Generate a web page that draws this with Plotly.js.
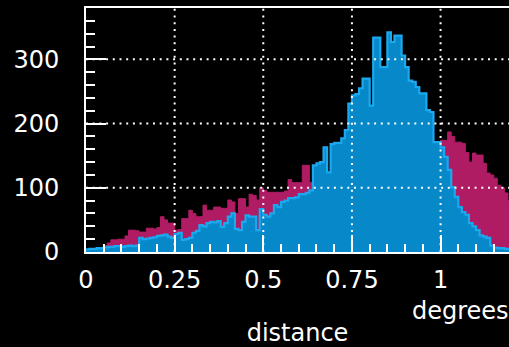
<!DOCTYPE html>
<html>
<head>
<meta charset="utf-8">
<script src="https://cdn.plot.ly/plotly-3.0.1.min.js"></script>
<style>html,body{margin:0;padding:0;background:#000;}#chart{width:509px;height:347px;}</style>
</head>
<body>
<div id="chart"></div>
<script>
// Histogram bins: start 0, width 0.01 (120 bins)
var binStart = 0;
var binWidth = 0.01;

// Magenta series counts per bin
var magentaCounts = [
  3,4,5,5,6, 10,14,19,19,20,
  20,25,34,34,33, 31,31,37,37,36,
  38,55,50,45,45, 34,35,52,52,65,
  60,55,55,73,65, 65,70,70,68,68,
  81,78,60,83,83, 70,90,88,81,100,
  96,93,93,93,93, 93,95,113,108,108,
  108,135,135,108,110, 115,118,120,122,125,
  128,130,133,135,138, 140,142,145,147,150,
  152,155,157,158,160, 160,162,163,163,165,
  165,166,167,168,168, 169,170,170,171,172,
  174,174,187,180,171, 171,169,155,140,154,
  151,151,138,123,120, 115,104,100,92,80
];

// Blue series counts per bin
var blueCounts = [
  4,5,5,6,6, 7,8,8,9,9,
  8,9,10,9,10, 22,20,21,22,23,
  25,26,27,24,22, 28,30,19,20,22,
  30,33,42,40,45, 47,46,48,39,45,
  55,60,36,34,47, 57,55,55,34,67,
  58,55,60,73,70, 78,80,84,84,85,
  90,90,92,96,135, 138,140,163,124,168,
  170,170,177,190,231, 244,246,255,270,270,
  228,334,334,288,288, 342,327,337,337,306,
  288,267,265,257,247, 247,221,218,171,171,
  163,148,128,101,86, 70,62,58,45,40,
  34,26,24,22,10, 7,6,6,5,5
];

var xTickVals = [0, 0.25, 0.5, 0.75, 1];
var xTickText = ['0', '0.25', '0.5', '0.75', '1'];
var yTickVals = [0, 100, 200, 300];
var yTickText = ['0', '100', '200', '300'];

function stepArrays(counts) {
  var xs = [], ys = [];
  for (var i = 0; i <= counts.length; i++) {
    xs.push(+(binStart + i * binWidth).toFixed(6));
    ys.push(i < counts.length ? counts[i] : counts[counts.length - 1]);
  }
  return {x: xs, y: ys};
}

var m = stepArrays(magentaCounts);
var b = stepArrays(blueCounts);

var traces = [
  {type: 'scatter', mode: 'lines', x: m.x, y: m.y, line: {shape: 'hv', color: '#b01c64', width: 1},
   fill: 'tozeroy', fillcolor: '#b01c64', hoverinfo: 'skip', showlegend: false},
  {type: 'scatter', mode: 'lines', x: b.x, y: b.y, line: {shape: 'hv', color: '#1aa9ef', width: 2.2},
   fill: 'tozeroy', fillcolor: '#0788c9', hoverinfo: 'skip', showlegend: false}
];

var xRange = [0, 1.193];
var yRange = [0, 380];

var shapes = [];
xTickVals.forEach(function (v) {
  if (v > xRange[0]) shapes.push({type: 'line', layer: 'above', xref: 'x', yref: 'paper', x0: v, x1: v, y0: 0, y1: 1,
    line: {color: 'white', width: 2, dash: '2px,4.7px'}});
});
yTickVals.forEach(function (v) {
  if (v > yRange[0]) shapes.push({type: 'line', layer: 'above', xref: 'paper', yref: 'y', x0: 0, x1: 1, y0: v, y1: v,
    line: {color: 'white', width: 2, dash: '2px,4.7px'}});
});

var font = {family: 'DejaVu Sans, sans-serif', color: 'white', size: 24};

var layout = {
  width: 509, height: 347,
  paper_bgcolor: '#000', plot_bgcolor: '#000',
  margin: {l: 86, r: 0, t: 8, b: 95},
  font: font,
  showlegend: false,
  xaxis: {
    range: xRange, tickvals: xTickVals, ticktext: xTickText,
    showgrid: false, zeroline: false, showline: true, linecolor: 'white', linewidth: 2, mirror: true,
    ticks: 'inside', ticklen: 17, tickwidth: 2, tickcolor: 'white',
    minor: {dtick: 0.05, ticks: 'inside', ticklen: 8, tickwidth: 2, tickcolor: 'white', showgrid: false},
    tickfont: font, layer: 'above traces', ticklabelstandoff: 5,
    title: {text: 'distance', font: font, standoff: 32}
  },
  yaxis: {
    range: yRange, tickvals: yTickVals, ticktext: yTickText,
    showgrid: false, zeroline: false, showline: true, linecolor: 'white', linewidth: 2, mirror: false,
    ticks: 'inside', ticklen: 20, tickwidth: 2, tickcolor: 'white',
    minor: {dtick: 20, ticks: 'inside', ticklen: 9, tickwidth: 2, tickcolor: 'white', showgrid: false},
    tickfont: font, layer: 'above traces', ticklabelstandoff: 20
  },
  shapes: shapes,
  annotations: [{text: 'degrees', xref: 'paper', yref: 'paper', x: 1.005, y: -0.242, xanchor: 'right', yanchor: 'middle',
    showarrow: false, font: font}]
};

Plotly.newPlot('chart', traces, layout, {displayModeBar: false, staticPlot: true});
</script>
</body>
</html>
